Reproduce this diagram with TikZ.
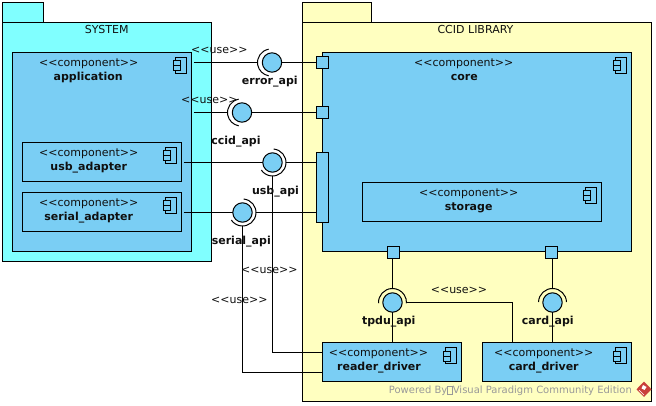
\documentclass[tikz,border=0pt]{standalone}
\usepackage{fontspec}
\setmainfont{DejaVu Sans}
\usetikzlibrary{calc}
\definecolor{pkgcyan}{HTML}{80FFFF}
\definecolor{pkgyellow}{HTML}{FFFFC0}
\definecolor{compblue}{HTML}{7ACEF4}
\definecolor{txt}{HTML}{101010}
\definecolor{powered}{HTML}{999999}
\definecolor{logored}{HTML}{C9403A}
\tikzset{
  ln/.style={line width=1pt,draw=black},
  boxx/.style={ln,rectangle,outer sep=0pt,inner sep=0pt},
  comp/.style={boxx,fill=compblue},
  port/.style={boxx,fill=compblue,minimum width=12pt},
  ball/.style={ln,circle,fill=compblue,minimum size=19.4pt,outer sep=0pt,inner sep=0pt},
  lab/.style={text=txt,font=\fontsize{11pt}{13pt}\selectfont,inner sep=0pt,anchor=base,yshift=-0.8pt},
  blab/.style={lab,font=\fontsize{11pt}{13pt}\selectfont\bfseries},
  wm/.style={lab,anchor=base west,text=powered,font=\fontsize{10pt}{12pt}\selectfont},
}
\newcommand{\compicon}[1]{%
  \draw[ln,fill=compblue] ($(#1)+(-16,5)$) rectangle ($(#1)+(-5,21)$);
  \draw[ln,fill=compblue] ($(#1)+(-18.5,8.5)$) rectangle ($(#1)+(-11,13.5)$);
  \draw[ln,fill=compblue] ($(#1)+(-18.5,13.5)$) rectangle ($(#1)+(-11,18.5)$);
}
\newcommand{\socket}[5]{% centre, dx, radius, start, end
  \begin{scope}[shift={($(#1)+(#2,0)$)},y=1pt]
    \draw[ln] (#4:#3) arc[start angle=#4,end angle=#5,radius=#3pt];
  \end{scope}}
\newcommand{\tofu}{{\fboxsep=0pt\fboxrule=0.5pt\fbox{\rule{0pt}{7pt}\hspace{4.5pt}}}}
\newcommand{\ster}[1]{<{}<#1>{}>}
\begin{document}
\begin{tikzpicture}[x=1pt,y=-1pt]
\useasboundingbox (0,0) rectangle (656,406);
\fill[white] (0,0) rectangle (656,406);
% packages
\node[boxx,fill=pkgcyan,minimum width=41pt,minimum height=20pt] (systab) at (23,12.5) {};
\node[boxx,fill=pkgcyan,minimum width=209pt,minimum height=239pt] (system) at (107,142) {};
\node[boxx,fill=pkgyellow,minimum width=69pt,minimum height=20pt] (libtab) at (337,12.5) {};
\node[boxx,fill=pkgyellow,minimum width=349pt,minimum height=379pt] (library) at (477,212) {};
% components
\node[comp,minimum width=179pt,minimum height=199pt] (app) at (102,152) {};
\node[comp,minimum width=159pt,minimum height=39pt] (usbad) at (102,162) {};
\node[comp,minimum width=159pt,minimum height=39pt] (serad) at (102,212) {};
\node[comp,minimum width=309pt,minimum height=199pt] (core) at (477,152) {};
\node[comp,minimum width=239pt,minimum height=39pt] (storage) at (482,202) {};
\node[comp,minimum width=139pt,minimum height=39pt] (reader) at (392,362) {};
\node[comp,minimum width=149pt,minimum height=39pt] (card) at (557,362) {};
\compicon{app.north east}
\compicon{usbad.north east}
\compicon{serad.north east}
\compicon{core.north east}
\compicon{storage.north east}
\compicon{reader.north east}
\compicon{card.north east}
% ports
\node[port,minimum height=12pt] (perr) at (322.5,62.5) {};
\node[port,minimum height=12pt] (pccid) at (322.5,112.5) {};
\node[port,minimum height=70pt] (plong) at (322.5,187.5) {};
\node[port,minimum height=12pt] (ptpdu) at (393.5,252.5) {};
\node[port,minimum height=12pt] (pcard) at (551.5,252.5) {};
% interface positions
\coordinate (ierr) at (272,62.5);
\coordinate (iccid) at (242,112.5);
\coordinate (iusb) at (272.5,162.5);
\coordinate (iser) at (242.5,212.5);
\coordinate (itpdu) at (392.5,302.5);
\coordinate (icard) at (552.5,302.5);
\coordinate (ereader) at (272.5,352.5);
\coordinate (sreader) at (242.5,372.5);
\coordinate (tcorner) at (512.5,302.5);
% balls
\node[ball] (berr) at (ierr) {};
\node[ball] (bccid) at (iccid) {};
\node[ball] (busb) at (iusb) {};
\node[ball] (bser) at (iser) {};
\node[ball] (btpdu) at (itpdu) {};
\node[ball] (bcard) at (icard) {};
% connectors
\draw[ln] ([xshift=2pt]app.east |- ierr) -- ($(ierr)+(-14.5,0)$);
\draw[ln] (berr.east) -- (ierr -| perr.west);
\draw[ln] ([xshift=2pt]app.east |- iccid) -- ($(iccid)+(-14.5,0)$);
\draw[ln] (bccid.east) -- (iccid -| pccid.west);
\draw[ln] ([xshift=2pt]usbad.east |- iusb) -- (busb.west);
\draw[ln] ($(iusb)+(13.5,0)$) -- (iusb -| plong.west);
\draw[ln] ([xshift=2pt]serad.east |- iser) -- (bser.west);
\draw[ln] ($(iser)+(13.5,0)$) -- (iser -| plong.west);
\draw[ln] ($(iusb)+(0,13.5)$) -- (ereader) -- (ereader -| reader.west);
\draw[ln] ($(iser)+(0,13.5)$) -- (sreader) -- (sreader -| reader.west);
\draw[ln] (itpdu |- ptpdu.south) -- ($(itpdu)+(0,-14)$);
\draw[ln] (btpdu.south) -- (itpdu |- reader.north);
\draw[ln] ($(itpdu)+(13.5,0)$) -- (tcorner) -- (tcorner |- card.north);
\draw[ln] (icard |- pcard.south) -- ($(icard)+(0,-14)$);
\draw[ln] (bcard.south) -- (icard |- card.north);
% sockets
\socket{ierr}{-1}{13.5}{100}{260}
\socket{iccid}{-1}{13.5}{100}{260}
\socket{iusb}{0}{13.5}{85}{-146}
\socket{iser}{0}{13.5}{85}{-146}
\socket{itpdu}{0}{14}{183}{-3}
\socket{icard}{0}{14}{178}{2}
% texts
\node[lab] (systitle) at (106.7,33) {SYSTEM};
\node[lab] (libtitle) at (475.5,33) {CCID LIBRARY};
\node[lab] at (88.7,66) {\ster{component}};
\node[blab] at (88.2,80) {application};
\node[lab] at (88.7,156) {\ster{component}};
\node[blab] at (88.7,170) {usb\_adapter};
\node[lab] at (88.7,206) {\ster{component}};
\node[blab] at (88.7,220) {serial\_adapter};
\node[lab] at (463.7,66) {\ster{component}};
\node[blab] at (464.3,80) {core};
\node[lab] at (468.7,196) {\ster{component}};
\node[blab] at (468.7,210) {storage};
\node[lab] at (378.5,356) {\ster{component}};
\node[blab] at (379,370) {reader\_driver};
\node[lab] at (543.7,356) {\ster{component}};
\node[blab] at (543.7,370) {card\_driver};
\node[blab] at (269.8,83.5) {error\_api};
\node[blab] at (236,143.5) {ccid\_api};
\node[blab] at (275.5,193.5) {usb\_api};
\node[blab] at (241.3,243.5) {serial\_api};
\node[blab] at (388.8,323.5) {tpdu\_api};
\node[blab] at (547.8,323.5) {card\_api};
\node[lab] at (219.3,53) {\ster{use}};
\node[lab] at (209.3,103) {\ster{use}};
\node[lab] at (269.3,273) {\ster{use}};
\node[lab] at (239.3,303) {\ster{use}};
\node[lab] at (459,293) {\ster{use}};
\node[wm] at (388.7,393) {Powered By\tofu Visual Paradigm Community Edition};
% logo
\fill[logored] (644,381.5) -- (651.5,389.3) -- (644,397) -- (636.5,389.3) -- cycle;
\fill[white] (643,385) -- (646.5,387) -- (644.5,390) -- (641.5,388.5) -- cycle;
\draw[white,line width=0.6pt] (639,390) -- (644,395);
\end{tikzpicture}
\end{document}
